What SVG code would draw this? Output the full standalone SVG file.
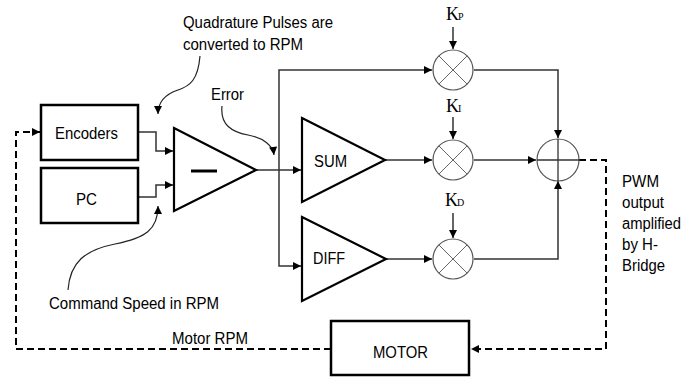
<svg xmlns="http://www.w3.org/2000/svg" width="694" height="377" viewBox="0 0 694 377">
<style>
.box{fill:#fff;stroke:#000;stroke-width:2.5}
.tri{fill:#fff;stroke:#000;stroke-width:2.2;stroke-linejoin:miter}
.ln{fill:none;stroke:#333;stroke-width:1.5}
.dash{fill:none;stroke:#000;stroke-width:2;stroke-dasharray:7,4}
.cir{fill:#fff;stroke:#555;stroke-width:1.2}
.x{stroke:#666;stroke-width:1}
.t{font-family:"Liberation Sans",Arial,sans-serif;font-size:16px;fill:#000}
.k{font-family:"Liberation Serif","Times New Roman",serif;font-size:18px;fill:#000}
.ks{font-size:10px}
.cv{fill:none;stroke:#222;stroke-width:1.2}
</style>
<defs>
<marker id="ah" viewBox="0 0 10 10" refX="10" refY="5" markerWidth="9" markerHeight="8" markerUnits="userSpaceOnUse" orient="auto">
<path d="M0,0 L10,5 L0,10 z" fill="#000"/>
</marker>
</defs>
<rect width="694" height="377" fill="#fff"/>

<g id="connectors">
<path class="ln" d="M138,132 H156 V151 H173" marker-end="url(#ah)"/>
<path class="ln" d="M138,197 H156 V185 H173" marker-end="url(#ah)"/>
<path class="ln" d="M256,170 H301" marker-end="url(#ah)"/>
<path class="ln" d="M279,170 V70 H432" marker-end="url(#ah)"/>
<path class="ln" d="M279,170 V266 H301" marker-end="url(#ah)"/>
<path class="ln" d="M385,160 H432" marker-end="url(#ah)"/>
<path class="ln" d="M386,259 H432" marker-end="url(#ah)"/>
<path class="ln" d="M453,27 V49" marker-end="url(#ah)"/>
<path class="ln" d="M453,117 V139" marker-end="url(#ah)"/>
<path class="ln" d="M453,213 V238" marker-end="url(#ah)"/>
<path class="ln" d="M474,70 H558 V138" marker-end="url(#ah)"/>
<path class="ln" d="M474,160 H536" marker-end="url(#ah)"/>
<path class="ln" d="M474,259 H558 V181" marker-end="url(#ah)"/>
<path class="dash" d="M579,160 H606 V349 H471" marker-end="url(#ah)"/>
<path class="dash" d="M331,349 H16 V132 H40" marker-end="url(#ah)"/>
<path class="cv" d="M200,56 C198,80 190,86 178,90 C166,94 158,102 158,114" marker-end="url(#ah)"/>
<path class="cv" d="M222,106 C220,125 232,132 248,135 C264,138 273,146 274,155" marker-end="url(#ah)"/>
<path class="cv" d="M68,290 C70,262 85,250 115,244 C145,238 158,230 158,206" marker-end="url(#ah)"/>
</g>

<g id="encoders">
<rect class="box" x="41" y="105" width="97" height="55"/>
<text class="t" x="55" y="139" textLength="63" lengthAdjust="spacingAndGlyphs">Encoders</text>
</g>
<g id="pc">
<rect class="box" x="41" y="168" width="97" height="55"/>
<text class="t" x="76" y="205" textLength="21" lengthAdjust="spacingAndGlyphs">PC</text>
</g>
<g id="comparator">
<path class="tri" d="M174,128 L256,170 L174,211 Z"/>
<line x1="191" y1="171" x2="217" y2="171" stroke="#000" stroke-width="3"/>
</g>
<g id="sum">
<path class="tri" d="M302,118 L385,160 L302,202 Z"/>
<text class="t" x="314" y="167" textLength="33" lengthAdjust="spacingAndGlyphs">SUM</text>
</g>
<g id="diff">
<path class="tri" d="M302,217 L386,259 L302,301 Z"/>
<text class="t" x="313" y="264" textLength="32" lengthAdjust="spacingAndGlyphs">DIFF</text>
</g>
<g id="mult-p">
<circle class="cir" cx="453" cy="70" r="20"/>
<path class="x" d="M439,56 L467,84 M467,56 L439,84"/>
<text class="k" x="446" y="20">K<tspan class="ks" dx="-1">P</tspan></text>
</g>
<g id="mult-i">
<circle class="cir" cx="453" cy="160" r="20"/>
<path class="x" d="M439,146 L467,174 M467,146 L439,174"/>
<text class="k" x="446" y="112">K<tspan class="ks" dx="-1">I</tspan></text>
</g>
<g id="mult-d">
<circle class="cir" cx="453" cy="259" r="20"/>
<path class="x" d="M439,245 L467,273 M467,245 L439,273"/>
<text class="k" x="445" y="206">K<tspan class="ks" dx="-1">D</tspan></text>
</g>
<g id="summer">
<circle class="cir" cx="558" cy="160" r="21"/>
<path stroke="#333" stroke-width="1.3" d="M537,160 H579 M558,139 V181"/>
</g>
<g id="motor">
<rect class="box" x="331" y="321" width="138" height="54"/>
<text class="t" x="373" y="358" textLength="55" lengthAdjust="spacingAndGlyphs">MOTOR</text>
</g>

<g id="labels">
<text class="t" x="183" y="28" textLength="150" lengthAdjust="spacingAndGlyphs">Quadrature Pulses are</text>
<text class="t" x="183" y="50" textLength="120" lengthAdjust="spacingAndGlyphs">converted to RPM</text>
<text class="t" x="211" y="100" textLength="33" lengthAdjust="spacingAndGlyphs">Error</text>
<text class="t" x="49" y="309" textLength="170" lengthAdjust="spacingAndGlyphs">Command Speed in RPM</text>
<text class="t" x="172" y="344" textLength="76" lengthAdjust="spacingAndGlyphs">Motor RPM</text>
<text class="t" x="622" y="187" textLength="37" lengthAdjust="spacingAndGlyphs">PWM</text>
<text class="t" x="622" y="208" textLength="42" lengthAdjust="spacingAndGlyphs">output</text>
<text class="t" x="622" y="229" textLength="59" lengthAdjust="spacingAndGlyphs">amplified</text>
<text class="t" x="622" y="250" textLength="36" lengthAdjust="spacingAndGlyphs">by H-</text>
<text class="t" x="622" y="271" textLength="43" lengthAdjust="spacingAndGlyphs">Bridge</text>
</g>
</svg>
